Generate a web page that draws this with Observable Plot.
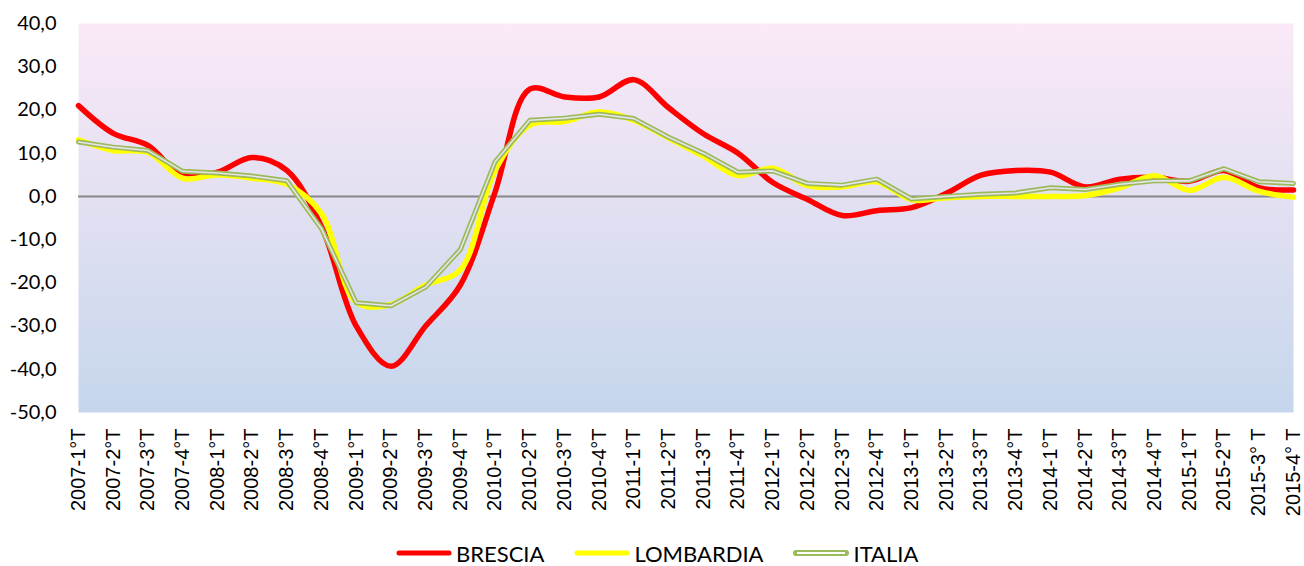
<!DOCTYPE html>
<html>
<head>
<meta charset="utf-8">
<script src="https://cdn.jsdelivr.net/npm/d3@7"></script>
<script src="https://cdn.jsdelivr.net/npm/@observablehq/plot@0.6"></script>
<style>
  html, body { margin: 0; padding: 0; background: #fff; }
  #chart svg { display: block; }
  #chart g[aria-label="x-axis tick label"] text { font-family: "Liberation Sans", Arial, sans-serif; }
  #chart g[aria-label="y-axis tick label"] text { font-family: Lato, sans-serif; }
  #legend { display: flex; justify-content: flex-start; align-items: center; height: 30px; margin-top: 8px;
    padding-left: 396px; font-family: Lato, "Open Sans", sans-serif; font-size: 22px; color: #000; }
  .item { display: flex; align-items: center; }
  .item svg { margin-right: 4px; }
</style>
</head>
<body>
<div id="chart"></div>
<div id="legend"></div>
<script>
const quarters = ["2007-1°T","2007-2°T","2007-3°T","2007-4°T","2008-1°T","2008-2°T","2008-3°T","2008-4°T",
  "2009-1°T","2009-2°T","2009-3°T","2009-4°T","2010-1°T","2010-2°T","2010-3°T","2010-4°T",
  "2011-1°T","2011-2°T","2011-3°T","2011-4°T","2012-1°T","2012-2°T","2012-3°T","2012-4°T",
  "2013-1°T","2013-2°T","2013-3°T","2013-4°T","2014-1°T","2014-2°T","2014-3°T","2014-4°T",
  "2015-1°T","2015-2°T","2015-3° T","2015-4° T"];
const brescia = [21.0, 14.6, 11.8, 4.8, 5.6, 9.0, 6.0, -7.0, -30.0, -39.3, -30.0, -20.5,
  1.0, 24.8, 23.0, 23.0, 27.0, 20.5, 14.5, 10.0, 3.2, -0.7, -4.4, -3.3,
  -2.6, 0.7, 4.9, 6.0, 5.6, 2.2, 4.0, 4.4, 3.5, 6.0, 2.0, 1.5];
const lombardia = [13.1, 10.6, 10.2, 4.2, 5.0, 4.2, 2.8, -4.0, -24.5, -25.0, -20.5, -17.0,
  6.0, 16.5, 17.3, 19.5, 17.6, 13.5, 9.3, 4.8, 6.5, 2.5, 2.2, 3.4,
  -0.8, -0.3, 0.0, 0.0, 0.0, 0.2, 2.0, 4.8, 1.4, 4.4, 1.2, -0.2];
const italia = [12.6, 11.4, 10.6, 5.8, 5.4, 4.7, 3.6, -7.5, -24.6, -25.3, -21.0, -12.3,
  8.0, 17.6, 18.1, 19.0, 18.0, 13.7, 10.0, 5.6, 5.9, 3.0, 2.6, 4.0,
  -0.6, 0.0, 0.5, 0.8, 2.0, 1.6, 2.8, 3.6, 3.6, 6.4, 3.4, 3.0];
const yTicks = [-50, -40, -30, -20, -10, 0, 10, 20, 30, 40];

const series = [
  {name: "BRESCIA", values: brescia},
  {name: "LOMBARDIA", values: lombardia},
  {name: "ITALIA", values: italia}
];
const rows = series.flatMap(s => s.values.map((v, i) => ({serie: s.name, i, v})));
const of = name => rows.filter(d => d.serie === name);

const chart = Plot.plot({
  width: 1304,
  height: 530,
  marginLeft: 78,
  marginRight: 11,
  marginTop: 23,
  marginBottom: 118,
  style: {background: "transparent", overflow: "visible"},
  x: {type: "linear", domain: [0, quarters.length - 1], axis: null},
  y: {domain: [-50, 40], axis: null},
  marks: [
    Plot.frame({fill: "url(#bggrad)", stroke: null}),
    Plot.ruleY([0], {stroke: "#868686", strokeWidth: 2}),
    Plot.line(of("BRESCIA"), {x: "i", y: "v", stroke: "#FF0000", strokeWidth: 5.5, curve: "catmull-rom"}),
    Plot.line(of("LOMBARDIA"), {x: "i", y: "v", stroke: "#FFFF00", strokeWidth: 5.5, curve: "catmull-rom"}),
    Plot.line(of("ITALIA"), {x: "i", y: "v", stroke: "#9BBB59", strokeWidth: 5}),
    Plot.line(of("ITALIA"), {x: "i", y: "v", stroke: "#E6E2EE", strokeWidth: 1.6}),
    Plot.axisY({ticks: yTicks, tickSize: 0, tickPadding: 22, fontSize: 20,
      tickFormat: d => d.toFixed(1).replace(".", ","), label: null}),
    Plot.axisX({ticks: d3.range(quarters.length), tickFormat: i => quarters[i],
      tickSize: 0, tickPadding: 16, tickRotate: -90, fontSize: 20, label: null})
  ]
});

const ns = "http://www.w3.org/2000/svg";
const defs = document.createElementNS(ns, "defs");
defs.innerHTML = `<linearGradient id="bggrad" x1="0" y1="0" x2="0" y2="1">
  <stop offset="0" stop-color="#FBE9F7"/><stop offset="1" stop-color="#C5D6EC"/></linearGradient>`;
chart.insertBefore(defs, chart.firstChild);
document.getElementById("chart").appendChild(chart);

const legend = document.getElementById("legend");
const sw = {
  BRESCIA: `<svg width="56" height="10"><line x1="3" y1="5" x2="53" y2="5" stroke="#FF0000" stroke-width="5" stroke-linecap="round"/></svg>`,
  LOMBARDIA: `<svg width="56" height="10"><line x1="3" y1="5" x2="53" y2="5" stroke="#FFFF00" stroke-width="5" stroke-linecap="round"/></svg>`,
  ITALIA: `<svg width="56" height="10"><line x1="3" y1="5" x2="53" y2="5" stroke="#9BBB59" stroke-width="6" stroke-linecap="round"/><line x1="4" y1="5" x2="52" y2="5" stroke="#ffffff" stroke-width="2"/></svg>`
};
series.forEach((s, i) => {
  const d = document.createElement("div");
  d.className = "item";
  d.style.marginLeft = i === 0 ? "0" : "30px";
  d.innerHTML = sw[s.name] + `<span>${s.name}</span>`;
  legend.appendChild(d);
});
</script>
</body>
</html>
